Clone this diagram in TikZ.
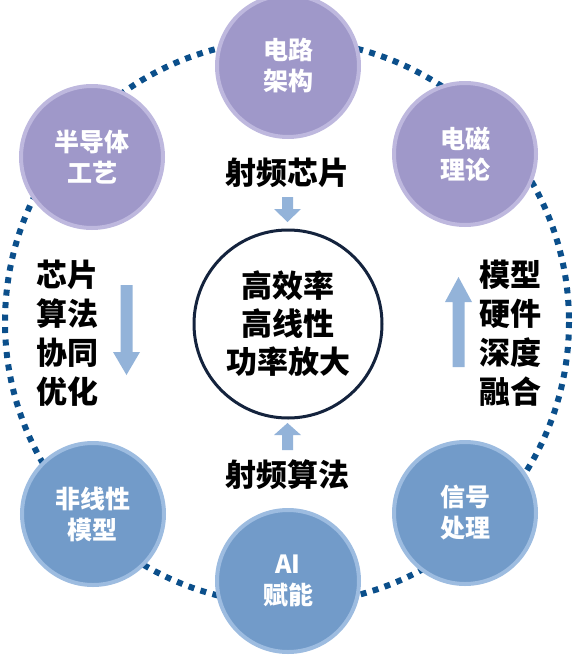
\documentclass[tikz,border=0pt]{standalone}
\usepackage{fontspec}
\newfontfamily\cjk{Noto Sans CJK SC}
\definecolor{pfill}{HTML}{9F98C9}
\definecolor{pedge}{HTML}{BEB8DE}
\definecolor{bfill}{HTML}{729BC9}
\definecolor{bedge}{HTML}{9DBCE0}
\definecolor{arrowc}{HTML}{93B3D9}
\definecolor{dotc}{HTML}{0B4F8B}
\definecolor{navy}{HTML}{14233D}
\begin{document}
\begin{tikzpicture}[x=1pt,y=-1pt,
  ring/.style={draw=dotc, line width=6pt, dash pattern=on 6pt off 6.5pt},
  pnode/.style={circle, fill=pfill, draw=pedge, line width=4pt, minimum size=142pt, inner sep=0pt, text=white, font=\cjk\bfseries\fontsize{25}{31}\selectfont, align=center},
  bnode/.style={pnode, fill=bfill, draw=bedge},
  core/.style={circle, fill=white, draw=navy, line width=3pt, minimum size=188pt, inner sep=0pt, font=\cjk\bfseries\fontsize{31}{38}\selectfont, align=center},
  lbl/.style={font=\cjk\bfseries\fontsize{31}{39}\selectfont, align=center, inner sep=0pt},
  arr/.style={fill=arrowc, draw=none}
]
\useasboundingbox (0,0) rectangle (575,656);
\draw[ring] (287,322) circle[radius=282];

\node[pnode] (top) at (288,66) {电路\\架构};
\node[pnode] (tl) at (92,157) {半导体\\工艺};
\node[pnode] (tr) at (465,154) {电磁\\理论};
\node[bnode] (bl) at (93,514) {非线性\\模型};
\node[bnode] (bot) at (288,581) {AI\\赋能};
\node[bnode] (br) at (465,513) {信号\\处理};

\node[core] (c) at (288,324) {高效率\\高线性\\功率放大};

\node[lbl] (t1) at (287,173) {射频芯片};
\node[lbl] (t2) at (287,475) {射频算法};
\node[lbl] (t3) at (67,333) {芯片\\算法\\协同\\优化};
\node[lbl] (t4) at (510,333) {模型\\硬件\\深度\\融合};

% small down arrow (top)
\fill[arr] (282,197) -- (293,197) -- (293,209) -- (301,209) -- (287.5,222) -- (274,209) -- (282,209) -- cycle;
% small up arrow (bottom)
\fill[arr] (282,450) -- (293,450) -- (293,435) -- (301,435) -- (287.5,423) -- (274,435) -- (282,435) -- cycle;
% left big down arrow
\fill[arr] (120.5,285) -- (132.5,285) -- (132.5,352) -- (140,352) -- (126.5,375) -- (113,352) -- (120.5,352) -- cycle;
% right big up arrow
\fill[arr] (452.5,367) -- (464.5,367) -- (464.5,302) -- (472,302) -- (458.5,277) -- (445,302) -- (452.5,302) -- cycle;
\end{tikzpicture}
\end{document}
